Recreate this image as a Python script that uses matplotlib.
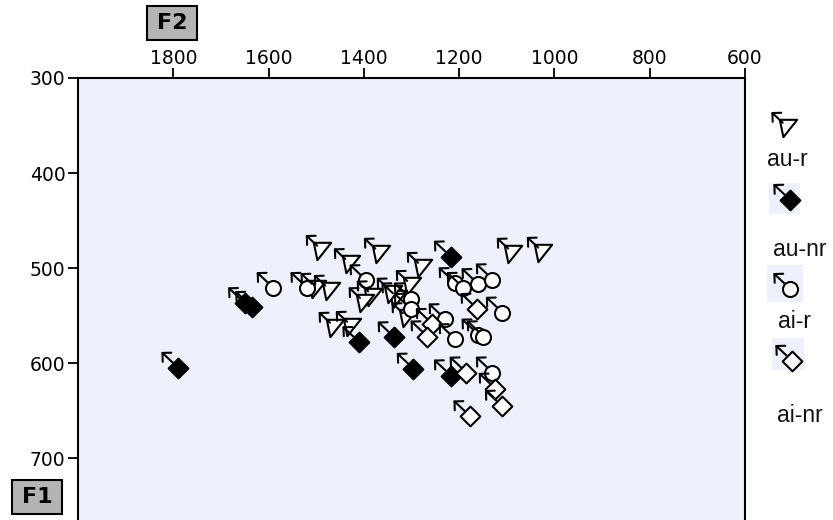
import matplotlib
matplotlib.use("Agg")
import matplotlib.pyplot as plt
from matplotlib.transforms import offset_copy
from matplotlib.patches import Rectangle
from matplotlib.path import Path
import numpy as np

# ---------------- data (F2 = x, F1 = y) ----------------
series_names = ["au-r", "au-nr", "ai-r", "ai-nr"]

au_r_f2 = [1487, 1428, 1365, 1498, 1470, 1380, 1397, 1460, 1424, 1275, 1298, 1328, 1307, 1338, 1086, 1023]
au_r_f1 = [482, 496, 485, 522, 524, 530, 537, 563, 562, 500, 519, 532, 553, 527, 485, 484]

au_nr_f2 = [1790, 1650, 1635, 1410, 1336, 1296, 1218, 1218]
au_nr_f1 = [605, 537, 541, 578, 573, 606, 488, 613]

ai_r_f2 = [1590, 1519, 1395, 1302, 1302, 1208, 1191, 1160, 1130, 1109, 1229, 1208, 1160, 1149, 1130]
ai_r_f1 = [521, 521, 513, 532, 543, 516, 521, 517, 512, 547, 554, 575, 570, 572, 610]

ai_nr_f2 = [1256, 1267, 1162, 1185, 1124, 1111, 1177]
ai_nr_f1 = [559, 572, 543, 610, 627, 645, 656]

x_ticks = [1800, 1600, 1400, 1200, 1000, 800, 600]
y_ticks = [300, 400, 500, 600, 700]

# ---------------- styles ----------------
W, H = 833, 520
BG = "#EEF0FC"
tri = Path([(-8.5, 8.5), (8.5, 8.5), (-5, -8.5), (-8.5, 8.5)],
           [Path.MOVETO, Path.LINETO, Path.LINETO, Path.CLOSEPOLY])
dia = Path([(0, 1), (1, 0), (0, -1), (-1, 0), (0, 1)],
           [Path.MOVETO, Path.LINETO, Path.LINETO, Path.LINETO, Path.CLOSEPOLY])
styles = {
    "au-r": dict(marker=tri, ms=12.5, mfc="white"),
    "au-nr": dict(marker=dia, ms=14.2, mfc="black"),
    "ai-r": dict(marker="o", ms=10.8, mfc="white"),
    "ai-nr": dict(marker=dia, ms=14.2, mfc="white"),
}
data = {
    "au-r": (au_r_f2, au_r_f1),
    "au-nr": (au_nr_f2, au_nr_f1),
    "ai-r": (ai_r_f2, ai_r_f1),
    "ai-nr": (ai_nr_f2, ai_nr_f1),
}

fig = plt.figure(figsize=(W / 100, H / 100), dpi=100)
fig.patch.set_facecolor("white")

ax = fig.add_axes([78 / W, 0, (745 - 78) / W, (H - 78) / H])
ax.set_facecolor(BG)
ax.set_xlim(2000, 600)
ax.set_ylim(765, 300)
ax.xaxis.tick_top()
ax.set_xticks(x_ticks)
ax.set_yticks(y_ticks)
ax.tick_params(axis="both", direction="out", length=7, width=1.3, labelsize=13.5, color="black")
ax.tick_params(axis="x", pad=0)
ax.tick_params(axis="y", pad=2)
ax.spines["bottom"].set_visible(False)
for s in ["left", "top", "right"]:
    ax.spines[s].set_linewidth(1.5)


def arrows(axis, xs, ys):
    tip = offset_copy(axis.transData, fig=fig, x=-12, y=11.5, units="points")
    tail = offset_copy(axis.transData, fig=fig, x=-3.8, y=3.8, units="points")
    for x, y in zip(xs, ys):
        axis.annotate("", xy=(x, y), xycoords=tip, xytext=(x, y), textcoords=tail,
                      arrowprops=dict(arrowstyle="->,head_length=0.45,head_width=0.45",
                                      lw=1.5, color="black", shrinkA=0, shrinkB=0,
                                      mutation_scale=10),
                      annotation_clip=False, zorder=4)


for name in series_names:
    xs, ys = data[name]
    st = styles[name]
    ax.plot(xs, ys, linestyle="none", marker=st["marker"], ms=st["ms"],
            mfc=st["mfc"], mec="black", mew=1.5, zorder=3)
    arrows(ax, xs, ys)

# axis title boxes
for label, cx, cy in [("F2", 172, 23), ("F1", 37, 497)]:
    fig.patches.append(Rectangle(((cx - 25) / W, 1 - (cy + 17) / H), 50 / W, 34 / H,
                                 transform=fig.transFigure, facecolor="#B4B4B4",
                                 edgecolor="black", lw=1.5))
    fig.text(cx / W, 1 - cy / H, label, ha="center", va="center",
             fontsize=16, fontweight="bold", color="black")

# ---------------- legend (manual) ----------------
lg = fig.add_axes([745 / W, 0, (W - 745) / W, 1])
lg.set_xlim(745, W)
lg.set_ylim(H, 0)
lg.axis("off")

leg_items = [
    ("au-r", (788, 128), None, (767, 160)),
    ("au-nr", (790, 200), (769, 183, 31, 31), (773, 249)),
    ("ai-r", (790, 289), (767, 265, 36, 37), (778, 322)),
    ("ai-nr", (792, 361), (772, 338, 32, 32), (777, 415)),
]
for name, (mx, my), bg, (tx, ty) in leg_items:
    st = styles[name]
    if bg is not None:
        lg.add_patch(Rectangle((bg[0], bg[1]), bg[2], bg[3], facecolor=BG,
                               edgecolor="none", zorder=1))
    lg.plot([mx], [my], linestyle="none", marker=st["marker"], ms=st["ms"],
            mfc=st["mfc"], mec="black", mew=1.5, zorder=3, clip_on=False)
    arrows(lg, [mx], [my])
    lg.text(tx, ty, name, ha="left", va="center", fontsize=16.5,
            family="Liberation Sans", color="#111111", clip_on=False)

fig.savefig("out.png", dpi=100)
